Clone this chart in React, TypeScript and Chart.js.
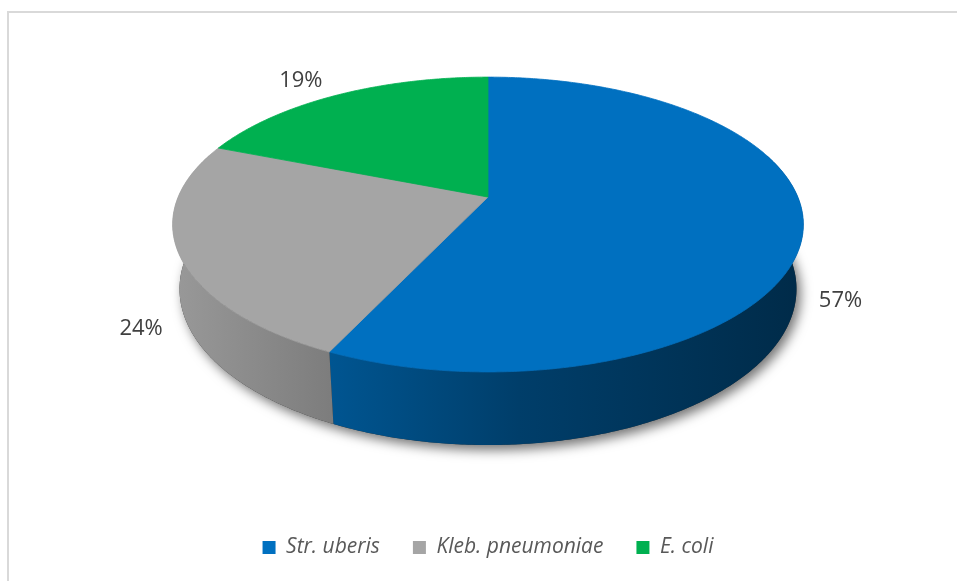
import React, { useEffect, useRef } from "react";
import { Chart, registerables } from "chart.js";

Chart.register(...registerables);

const categories = ["Str. uberis", "Kleb. pneumoniae", "E. coli"];
const shares = [57, 24, 19];
const valueLabels = ["57%", "24%", "19%"];
const sliceColors = ["#0070C0", "#A5A5A5", "#00B050"];

function hexToRgb(hex: string) {
  const h = hex.replace("#", "");
  return [0, 2, 4].map((i) => parseInt(h.slice(i, i + 2), 16));
}
function shade(hex: string, f: number) {
  const [r, g, b] = hexToRgb(hex);
  return `rgb(${Math.round(r * f)},${Math.round(g * f)},${Math.round(b * f)})`;
}

const pie3d = {
  id: "pie3d",
  beforeDatasetsDraw(chart: any) {
    const meta = chart.getDatasetMeta(0);
    const arcs = meta.data as any[];
    if (!arcs.length) return false;
    const R = arcs[0].outerRadius;
    const cx = arcs[0].x;
    const cy = arcs[0].y - 0.218 * R;
    const F = 6.01 * R;
    const Fx = F * 0.981;
    const D = 4.795;
    const sa = 0.4505;
    const ca = Math.sqrt(1 - sa * sa);
    const H = 0.23;
    const proj = (t: number, r: number, y: number) => {
      const x = r * Math.sin(t);
      const z = r * Math.cos(t);
      const yc = z * sa + y * ca;
      const depth = D + z * ca - y * sa;
      return [cx + (Fx * x) / depth, cy - (F * yc) / depth];
    };
    const ctx = chart.ctx as CanvasRenderingContext2D;
    const step = Math.PI / 360;

    const slices = arcs.map((a: any, i: number) => ({
      s: a.startAngle + Math.PI / 2,
      e: a.endAngle + Math.PI / 2,
      color: sliceColors[i % sliceColors.length],
      i,
    }));

    ctx.save();
    // shadow under the pie
    ctx.beginPath();
    for (let t = 0; t <= Math.PI * 2 + 1e-6; t += step) {
      const [X, Y] = proj(t, 1, -H);
      if (t === 0) ctx.moveTo(X, Y);
      else ctx.lineTo(X, Y);
    }
    ctx.closePath();
    ctx.shadowColor = "rgba(0,0,0,0.55)";
    ctx.shadowBlur = 12;
    ctx.shadowOffsetX = 4;
    ctx.shadowOffsetY = 5;
    ctx.fillStyle = "#333";
    ctx.fill();
    ctx.restore();

    // side walls (front half)
    const W = Fx / D;
    const lo = Math.PI * 0.4;
    const hi = Math.PI * 1.6;
    slices.forEach((sl) => {
      const s = Math.max(sl.s, lo);
      const e = Math.min(sl.e, hi);
      if (e <= s) return;
      const grad = ctx.createLinearGradient(cx - W, 0, cx + W, 0);
      grad.addColorStop(0, shade(sl.color, 0.92));
      grad.addColorStop(0.3, shade(sl.color, 0.72));
      grad.addColorStop(0.55, shade(sl.color, 0.55));
      grad.addColorStop(1, shade(sl.color, 0.38));
      ctx.beginPath();
      let first = true;
      for (let t = s; t <= e + 1e-9; t += step) {
        const [X, Y] = proj(Math.min(t, e), 1, 0);
        if (first) { ctx.moveTo(X, Y); first = false; } else ctx.lineTo(X, Y);
      }
      let [X2, Y2] = proj(e, 1, 0);
      ctx.lineTo(X2, Y2);
      for (let t = e; t >= s - 1e-9; t -= step) {
        const [X, Y] = proj(Math.max(t, s), 1, -H);
        ctx.lineTo(X, Y);
      }
      [X2, Y2] = proj(s, 1, -H);
      ctx.lineTo(X2, Y2);
      ctx.closePath();
      ctx.fillStyle = grad;
      ctx.fill();
    });

    // top faces
    slices.forEach((sl) => {
      ctx.beginPath();
      const [ax, ay] = proj(0, 0, 0);
      ctx.moveTo(ax, ay);
      for (let t = sl.s; t <= sl.e + 1e-9; t += step) {
        const [X, Y] = proj(Math.min(t, sl.e), 1, 0);
        ctx.lineTo(X, Y);
      }
      const [ex, ey] = proj(sl.e, 1, 0);
      ctx.lineTo(ex, ey);
      ctx.closePath();
      ctx.fillStyle = sl.color;
      ctx.fill();
      ctx.strokeStyle = sl.color;
      ctx.lineWidth = 0.8;
      ctx.stroke();
    });

    // value labels
    ctx.fillStyle = "#404040";
    ctx.font = '22px "Open Sans"';
    ctx.textAlign = "center";
    ctx.textBaseline = "middle";
    slices.forEach((sl) => {
      const m = (sl.s + sl.e) / 2;
      const front = Math.cos(m) < 0;
      const [X, Y] = front ? proj(m, 1.1, -H) : proj(m, 1.19, 0);
      const out = Math.sin(m) >= 0 ? 12 : -12;
      ctx.fillText(valueLabels[sl.i], X + out, Y + 2);
    });
    return false;
  },
};

export default function App() {
  const ref = useRef<HTMLCanvasElement | null>(null);
  useEffect(() => {
    if (!ref.current) return;
    const chart = new Chart(ref.current, {
      type: "pie",
      data: {
        labels: categories,
        datasets: [
          {
            data: shares,
            backgroundColor: sliceColors,
            borderWidth: 0,
          },
        ],
      },
      options: {
        animation: false,
        responsive: false,
        devicePixelRatio: 1,
        layout: { padding: { left: 19, right: 0, top: 0, bottom: 13 } },
        plugins: {
          tooltip: { enabled: false },
          legend: {
            position: "bottom",
            labels: {
              boxWidth: 13,
              boxHeight: 13,
              padding: 33,
              color: "#595959",
              font: { family: "Open Sans", size: 21, style: "italic" },
            },
          },
        },
      },
      plugins: [pie3d],
    });
    return () => chart.destroy();
  }, []);
  return (
    <div style={{ position: "absolute", left: 0, top: 0, width: 957, height: 581, overflow: "hidden", background: "#fff" }}>
      <div
        style={{
          position: "absolute",
          left: 7,
          top: 11,
          width: 1000,
          height: 700,
          borderLeft: "2px solid #d9d9d9",
          borderTop: "2px solid #d9d9d9",
        }}
      />
      <canvas ref={ref} width={957} height={581} style={{ position: "absolute", left: 0, top: 0, width: 957, height: 581 }} />
    </div>
  );
}
